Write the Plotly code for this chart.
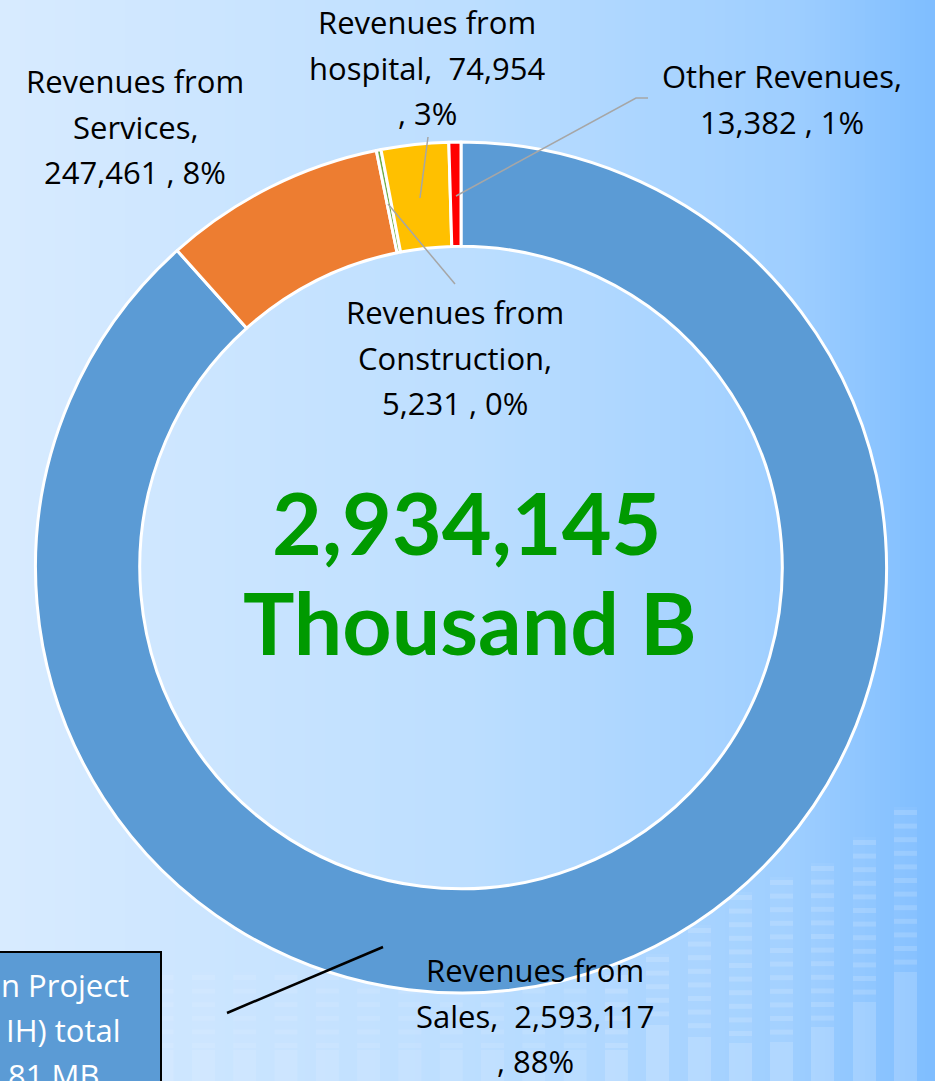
import plotly.graph_objects as go

# ---------------- data ----------------
names = ["Revenues from Sales", "Revenues from Services", "Revenues from Construction",
         "Revenues from hospital", "Other Revenues"]
values = [2593117, 247461, 5231, 74954, 13382]
pct_labels = ["88%", "8%", "0%", "3%", "1%"]
colors = ["#5B9BD5", "#ED7D31", "#70AD47", "#FFC000", "#FF0000"]
total_label = "2,934,145"
unit_label = "Thousand B"
box_lines = ["n Project", "IH) total", "81 MB"]

W, H = 935, 1081


def px(x):
    return x / W


def py(y):
    return 1 - y / H


def fmt(v):
    return f"{v:,}"


label_lines = [
    ["Revenues from", "Sales,&nbsp; " + fmt(values[0]), ", " + pct_labels[0]],
    ["Revenues from", "Services,", fmt(values[1]) + " , " + pct_labels[1]],
    ["Revenues from", "Construction,", fmt(values[2]) + " , " + pct_labels[2]],
    ["Revenues from", "hospital,&nbsp; " + fmt(values[3]), ", " + pct_labels[3]],
    ["Other Revenues,", fmt(values[4]) + " , " + pct_labels[4]],
]
# label placement (pixel centre x, first line y)
label_pos = [(535, 970), (135, 81), (455, 312), (427, 22), (782, 76)]
LSTEP = 45.5

fig = go.Figure()

# donut
cx, cy, R = 461, 567.5, 425.5
fig.add_trace(go.Pie(
    labels=names, values=values, sort=False, direction="clockwise", rotation=0,
    hole=0.755, textinfo="none", hoverinfo="label+value+percent",
    marker=dict(colors=colors, line=dict(color="white", width=3)),
    domain=dict(x=[px(cx - R), px(cx + R)], y=[py(cy + R), py(cy - R)]),
    showlegend=False,
))

shapes = []
# background gradient (vertical strips)
stops = [(0.0, (216, 235, 255)), (0.5, (188, 222, 255)), (0.85, (158, 206, 255)), (1.0, (126, 189, 255))]


def grad(t):
    for (t0, c0), (t1, c1) in zip(stops[:-1], stops[1:]):
        if t <= t1:
            f = (t - t0) / (t1 - t0)
            return tuple(round(a + (b - a) * f) for a, b in zip(c0, c1))
    return stops[-1][1]


NS = 187
for i in range(NS):
    x0 = i * W / NS
    x1 = (i + 1) * W / NS + 0.6
    c = grad((i + 0.5) / NS)
    shapes.append(dict(type="rect", xref="paper", yref="paper", x0=px(x0), x1=px(x1), y0=0, y1=1,
                       fillcolor=f"rgb{c}", line=dict(width=0), layer="below"))

# decorative background columns (bottom right)
col_tops = [(894, 810, 972), (853, 840, 1002), (811, 866, 1027), (770, 880, 1042),
            (729, 895, 1043), (688, 928, 1037), (646, 957, 1025)]
for k in range(7, 19):
    col_tops.append((894 - 41.3 * k, 975, 1050))
for (x0, dtop, stop) in col_tops:
    op = 0.15 if x0 > 600 else 0.09
    shapes.append(dict(type="rect", xref="paper", yref="paper", x0=px(x0), x1=px(x0 + 23),
                       y0=py(H), y1=py(dtop - 3), fillcolor=f"rgba(255,255,255,{op * 0.3:.3f})",
                       line=dict(width=0), layer="below"))
    y = dtop
    while y < stop - 6:
        shapes.append(dict(type="rect", xref="paper", yref="paper", x0=px(x0), x1=px(x0 + 23),
                           y0=py(y + 5), y1=py(y), fillcolor=f"rgba(255,255,255,{op:.3f})",
                           line=dict(width=0), layer="below"))
        y += 13.6
    shapes.append(dict(type="rect", xref="paper", yref="paper", x0=px(x0), x1=px(x0 + 23),
                       y0=py(H), y1=py(stop), fillcolor=f"rgba(255,255,255,{op:.3f})",
                       line=dict(width=0), layer="below"))

# leader lines
lead = dict(color="#A6A6A6", width=1.5)
shapes.append(dict(type="line", xref="paper", yref="paper", x0=px(428), y0=py(137), x1=px(420), y1=py(198), line=lead))
shapes.append(dict(type="line", xref="paper", yref="paper", x0=px(388), y0=py(204), x1=px(455), y1=py(284), line=lead))
shapes.append(dict(type="path", xref="paper", yref="paper",
                   path=f"M {px(648)},{py(98)} L {px(636)},{py(98)} L {px(456)},{py(196)}", line=lead))

# callout box + black line
shapes.append(dict(type="rect", xref="paper", yref="paper", x0=px(-20), x1=px(161), y0=py(H + 20), y1=py(952),
                   fillcolor="#5B9BD5", line=dict(color="black", width=2)))
shapes.append(dict(type="line", xref="paper", yref="paper", x0=px(227), y0=py(1013), x1=px(383), y1=py(947),
                   line=dict(color="black", width=2.5)))

annotations = []
lab_font = dict(family="Open Sans", size=31, color="black")
for lines, (lx, ly) in zip(label_lines, label_pos):
    for j, t in enumerate(lines):
        annotations.append(dict(text=t, x=px(lx), y=py(ly + j * LSTEP), xref="paper", yref="paper",
                                showarrow=False, xanchor="center", yanchor="middle", font=lab_font))

box_right = [130, 122, 100]
for j, (t, r) in enumerate(zip(box_lines, box_right)):
    annotations.append(dict(text=t, x=px(r + 1), y=py(985 + j * 45), xref="paper", yref="paper",
                            showarrow=False, xanchor="right", yanchor="middle",
                            font=dict(family="Open Sans", size=31, color="white")))

center_font = dict(family="Lato", size=86, color="#009A00", weight="bold")
annotations.append(dict(text=f"<b>{total_label}</b>", x=px(466), y=py(521), xref="paper", yref="paper",
                        showarrow=False, xanchor="center", yanchor="middle", font=center_font))
annotations.append(dict(text=f"<b>{unit_label}</b>", x=px(470), y=py(621), xref="paper", yref="paper",
                        showarrow=False, xanchor="center", yanchor="middle", font=center_font))

fig.update_layout(
    width=W, height=H, margin=dict(l=0, r=0, t=0, b=0),
    paper_bgcolor="rgb(190,222,255)", plot_bgcolor="rgba(0,0,0,0)",
    shapes=shapes, annotations=annotations, showlegend=False,
)

fig.write_html("out.html", include_plotlyjs=True, full_html=True,
               config={"displayModeBar": False},
               post_script="document.body.style.margin='0';document.body.style.overflow='hidden';")
